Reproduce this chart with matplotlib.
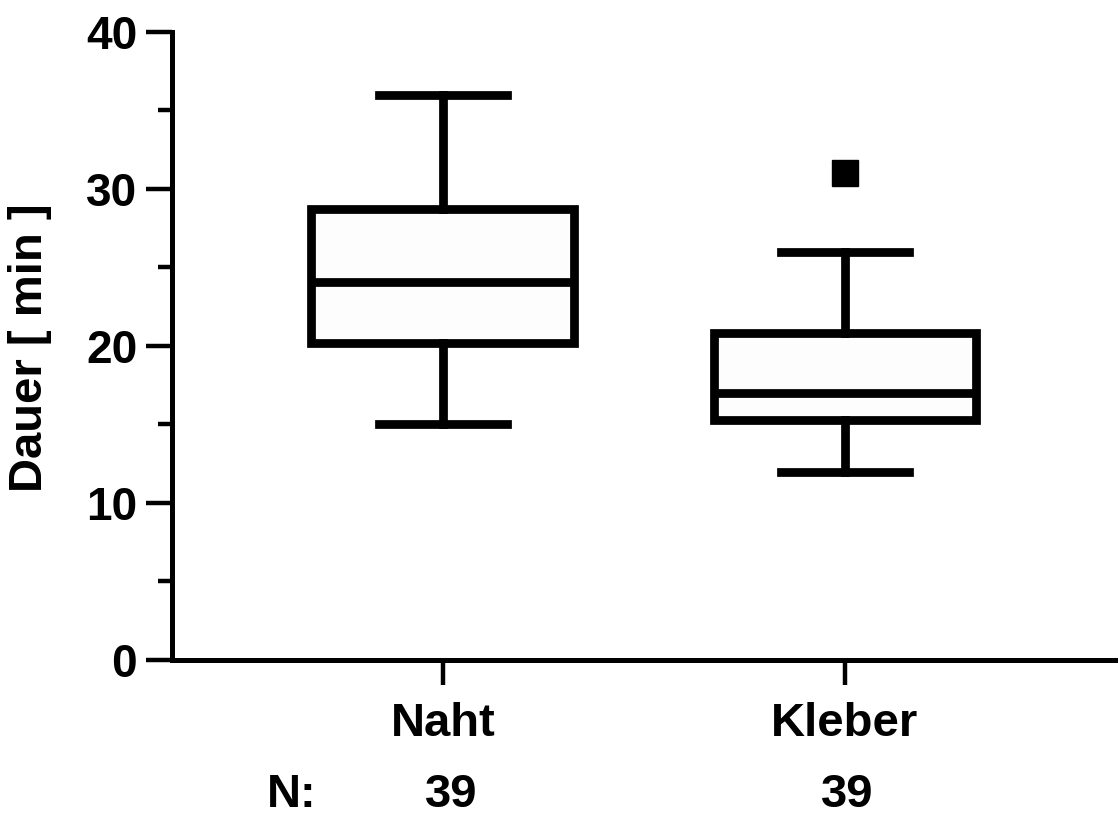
import matplotlib
matplotlib.use('Agg')
import matplotlib.pyplot as plt
from matplotlib.ticker import MultipleLocator

plt.rcParams['font.family'] = ['Liberation Sans', 'DejaVu Sans']
plt.rcParams['font.weight'] = 'bold'

groups = ['Naht', 'Kleber']
n_counts = [39, 39]
whislo = [15.0, 12.0]
q1 = [20.2, 15.3]
med = [24.1, 17.0]
q3 = [28.7, 20.8]
whishi = [36.0, 26.0]
fliers = [[], [31.0]]

stats = []
for i in range(len(groups)):
    stats.append(dict(label=groups[i], whislo=whislo[i], q1=q1[i], med=med[i],
                      q3=q3[i], whishi=whishi[i], fliers=fliers[i]))

fig = plt.figure(figsize=(11.18, 8.15), dpi=100)
ax = fig.add_axes([0.1538, 0.1902, 0.8462, 0.7706])

lw = 6.3
ax.bxp(stats, positions=[1, 2], widths=0.654, capwidths=0.32, patch_artist=True,
       boxprops=dict(facecolor='#fdfdfd', edgecolor='black', linewidth=lw),
       medianprops=dict(color='black', linewidth=lw),
       whiskerprops=dict(color='black', linewidth=lw),
       capprops=dict(color='black', linewidth=lw),
       flierprops=dict(marker='s', markerfacecolor='black', markeredgecolor='black', markersize=19))

ax.set_xlim(0.326, 2.679)
ax.set_ylim(0, 40)
ax.yaxis.set_major_locator(MultipleLocator(10))
ax.yaxis.set_minor_locator(MultipleLocator(5))
for s in ['top', 'right']:
    ax.spines[s].set_visible(False)
for s in ['left', 'bottom']:
    ax.spines[s].set_linewidth(3.6)
ax.tick_params(axis='y', which='major', length=19, width=3.2, labelsize=33, pad=6)
ax.tick_params(axis='y', which='minor', length=10, width=3.2)
ax.tick_params(axis='x', which='major', length=18, width=3.2, labelsize=34, pad=12)
ax.set_xticks([1, 2])
ax.set_xticklabels(groups, fontweight='bold')
for lab in ax.get_yticklabels():
    lab.set_fontweight('bold')

# y label placed by hand so it sits near the figure edge like the original
fig.text(0.027, 0.5736, 'Dauer [ min ]', rotation=90, ha='center', va='center',
         fontsize=34, fontweight='bold')

trans = ax.get_xaxis_transform()
ax.text(0.625, -0.215, 'N:', transform=trans, ha='center', va='center', fontsize=34, fontweight='bold')
n_pos = [1.02, 2.005]
for i in range(len(groups)):
    ax.text(n_pos[i], -0.215, str(n_counts[i]), transform=trans, ha='center', va='center',
            fontsize=34, fontweight='bold')

fig.savefig('out.png', dpi=100)
